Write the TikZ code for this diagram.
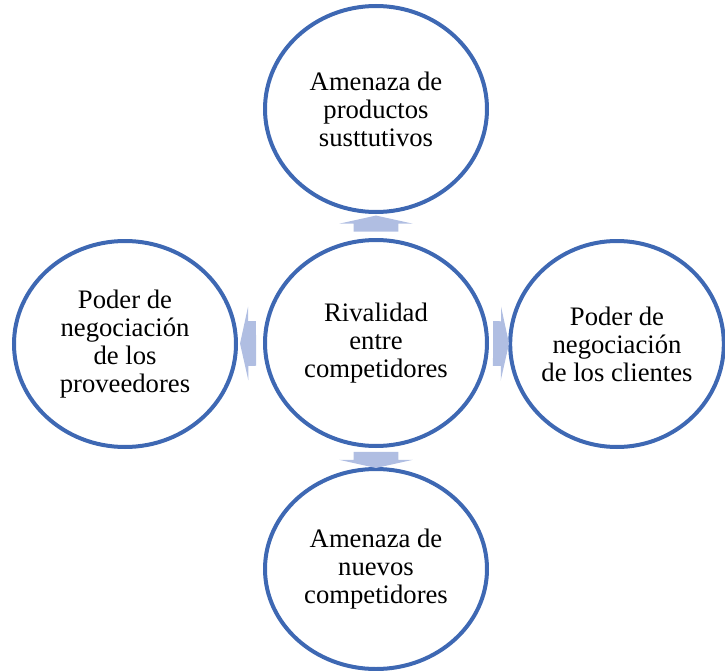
\documentclass[tikz,border=0pt]{standalone}
\usepackage{fontspec}
\setmainfont{Liberation Serif}
\usetikzlibrary{shapes.geometric,shapes.arrows}
\definecolor{azul}{RGB}{62,104,179}
\definecolor{azulclaro}{RGB}{176,190,226}

\begin{document}
\begin{tikzpicture}[x=0.75pt,y=-0.75pt]
    % Styles for circles and arrows
    \tikzset{
      fuerza/.style={ellipse, draw=azul, line width=3pt, align=center, inner sep=0pt, minimum width=166.5pt, minimum height=154.5pt, font=\fontsize{20}{21}\selectfont},
      flecha/.style={single arrow, fill=azulclaro, draw=none, inner xsep=0pt, inner ysep=16.5pt, minimum height=12pt, minimum width=54.75pt, single arrow head extend=10.9pt, single arrow tip angle=155, sloped, allow upside down}
    }
    \useasboundingbox (0,0) rectangle (725,671);

    % Circles with explicit coordinates
    \node[fuerza] (centro) at (376,343) {Rivalidad\\entre\\competidores};
    \node[fuerza] (arriba) at (376,109) {Amenaza de\\productos\\susttutivos};
    \node[fuerza] (izq) at (125,344) {Poder de\\negociación\\de los\\proveedores};
    \node[fuerza, minimum width=159pt] (der) at (617,344) {Poder de\\negociación\\de los clientes};
    \node[fuerza, minimum height=150pt] (abajo) at (376,569) {Amenaza de\\nuevos\\competidores};

    % Block arrows between circles
    \path (centro) -- node[flecha] {} (arriba);
    \path (centro) -- node[flecha] {} (izq);
    \path (centro) -- node[flecha] {} (der);
    \path (centro) -- node[flecha] {} (abajo);

\end{tikzpicture}
\end{document}
